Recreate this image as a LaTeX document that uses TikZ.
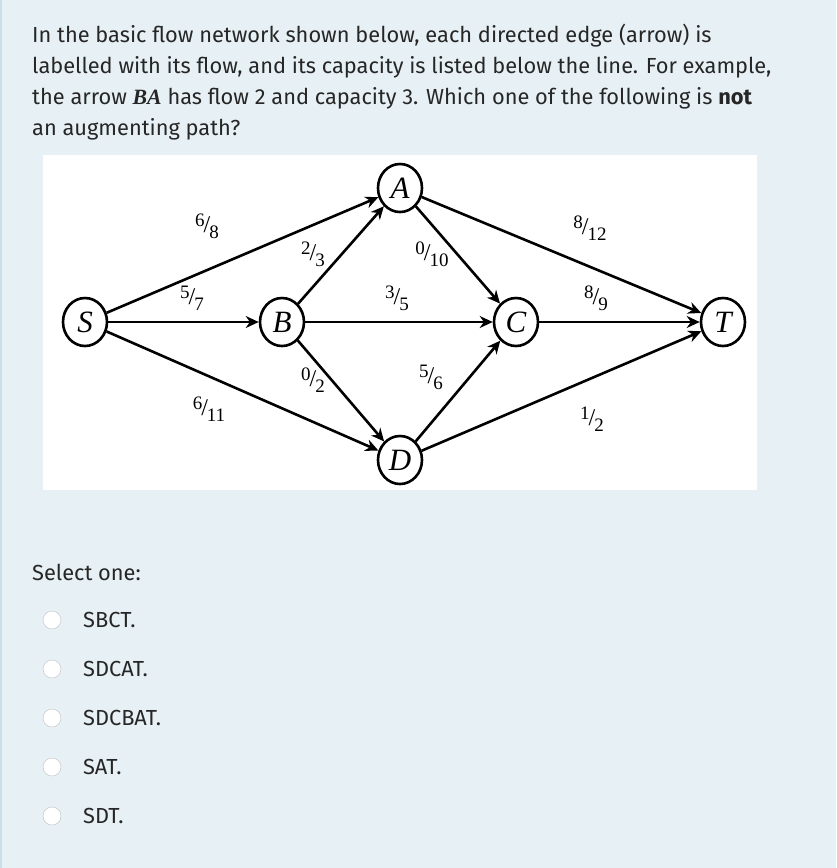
\documentclass[tikz,border=0pt]{standalone}
\usepackage{fontspec}
\setmainfont{Fira Sans}
\newfontfamily\serif{Liberation Serif}
\begin{document}
\begin{tikzpicture}[x=1pt,y=-1pt,
  vert/.style={draw,line width=2.6pt,fill=white,ellipse,minimum width=44pt,minimum height=48pt,inner sep=0pt,font=\serif\fontsize{31}{31}\selectfont\itshape},
  edge/.style={draw,line width=2.6pt,-{Stealth[length=13pt,width=12pt]}},
  lab/.style={font=\serif\fontsize{20}{20}\selectfont},
  txt/.style={anchor=base west,inner sep=0pt,font=\fontsize{21.8}{26}\selectfont,text=black!85},
  radio/.style={draw=black!25,fill=white,circle,minimum size=18pt,inner sep=0pt}]
\usetikzlibrary{shapes.geometric,arrows.meta}
\fill[fill={rgb,255:red,231;green,241;blue,245}] (0,0) rectangle (836,868);
\fill[fill={rgb,255:red,200;green,222;blue,232}] (0,0) rectangle (2,868);
\useasboundingbox (0,0) rectangle (836,868);
\node[txt] (l1) at (32,42) {In the basic flow network shown below, each directed edge (arrow) is};
\node[txt] (l2) at (32,73) {labelled with its flow, and its capacity is listed below the line. For example,};
\node[txt] (l3) at (32,104) {the arrow {\serif\bfseries\itshape BA} has flow 2 and capacity 3. Which one of the following is \textbf{not}};
\node[txt] (l4) at (32,135) {an augmenting path?};
\fill[white] (43,155) rectangle (757,490);
\newcommand\fr[2]{\raisebox{6pt}{\serif\fontsize{19}{19}\selectfont #1}\kern-1pt{\serif\fontsize{24}{24}\selectfont/}\kern-1pt\raisebox{-6pt}{\serif\fontsize{19}{19}\selectfont #2}}
\node[vert] (S) at (85,322) {S};
\node[vert] (B) at (282,322) {B};
\node[vert] (A) at (400,188) {A};
\node[vert] (C) at (516,322) {C};
\node[vert] (T) at (723,322) {T};
\node[vert] (D) at (400,460) {D};
\draw[edge] (S) -- (A); \draw[edge] (S) -- (B); \draw[edge] (S) -- (D);
\draw[edge] (B) -- (A); \draw[edge] (B) -- (C); \draw[edge] (B) -- (D);
\draw[edge] (A) -- (C); \draw[edge] (D) -- (C);
\draw[edge] (A) -- (T); \draw[edge] (C) -- (T); \draw[edge] (D) -- (T);
\node[lab] (e1) at (207,226) {\fr{6}{8}};
\node[lab] (e2) at (313,254) {\fr{2}{3}};
\node[lab] (e3) at (432,254) {\fr{0}{10}};
\node[lab] (e4) at (590,228) {\fr{8}{12}};
\node[lab] (e5) at (192,298) {\fr{5}{7}};
\node[lab] (e6) at (397,298) {\fr{3}{5}};
\node[lab] (e7) at (596,298) {\fr{8}{9}};
\node[lab] (e8) at (313,380) {\fr{0}{2}};
\node[lab] (e9) at (431,377) {\fr{5}{6}};
\node[lab] (e10) at (209,409) {\fr{6}{11}};
\node[lab] (e11) at (592,419) {\fr{1}{2}};
\node[txt] (sel) at (32,580) {Select one:};
\foreach \t [count=\i] in {SBCT.,SDCAT.,SDCBAT.,SAT.,SDT.}{
  \node[radio] (r\i) at (52,571+49*\i) {};
  \node[txt] (o\i) at (83,578+49*\i) {\t};
}
\end{tikzpicture}
\end{document}
